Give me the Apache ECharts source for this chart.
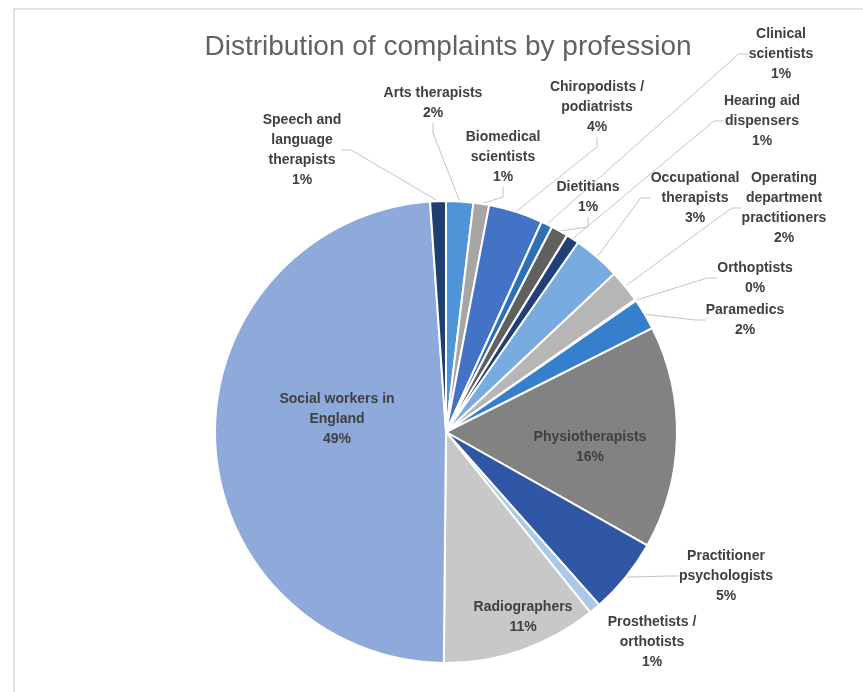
<!DOCTYPE html>
<html>
<head>
<meta charset="utf-8">
<script src="https://cdn.jsdelivr.net/npm/echarts@6/dist/echarts.min.js"></script>
<style>
html,body{margin:0;padding:0;background:#fff;}
#chart{width:863px;height:692px;}
</style>
</head>
<body>
<div id="chart"></div>
<script>
// ---- Data ----
const categories = [
  'Arts therapists','Biomedical scientists','Chiropodists / podiatrists','Clinical scientists',
  'Dietitians','Hearing aid dispensers','Occupational therapists','Operating department practitioners',
  'Orthoptists','Paramedics','Physiotherapists','Practitioner psychologists',
  'Prosthetists / orthotists','Radiographers','Social workers in England','Speech and language therapists'
];
const labelText = [
  'Arts therapists','Biomedical\nscientists','Chiropodists /\npodiatrists','Clinical\nscientists',
  'Dietitians','Hearing aid\ndispensers','Occupational\ntherapists','Operating\ndepartment\npractitioners',
  'Orthoptists','Paramedics','Physiotherapists','Practitioner\npsychologists',
  'Prosthetists /\northotists','Radiographers','Social workers in\nEngland','Speech and\nlanguage\ntherapists'
];
const values = [1.9, 1.1, 3.8, 0.8, 1.2, 0.9, 3.3, 2.3, 0.1, 2.2, 15.6, 5.3, 0.8, 10.9, 48.8, 1.1];

// ---- Styling / layout (not data) ----
const colors = ['#4f94d9','#a6a6a6','#4472c4','#2e6fb5','#606060','#223f78','#78abdf','#b6b6b6',
  '#9dc3e6','#3580cc','#828282','#3057a6','#a9c8ea','#c8c8c8','#8eaadb','#1f3f6e'];
const insideIdx = [10, 13, 14];
const labelPos = [[433,103],[503,157],[597,107],[781,54],[588,197],[762,121],[695,198],[784,208],
  [755,278],[745,320],[590,447],[726,576],[652,642],[523,617],[337,419],[302,150]];

const chart = echarts.init(document.getElementById('chart'), null, {renderer:'canvas'});
const data = categories.map((c, i) => ({
  name: c,
  value: values[i],
  itemStyle: {color: colors[i]},
  label: insideIdx.includes(i) ? {position:'inside'} : {position:'outside'},
  labelLine: {show: !insideIdx.includes(i) && i !== 12}
}));

chart.setOption({
  animation: false,
  graphic: [
    {type:'rect', shape:{x:14, y:9, width:900, height:800},
     style:{fill:'none', stroke:'#d9d9d9', lineWidth:1.5}, silent:true, z:-1},
    {type:'text', x:448, y:47,
     style:{text:'Distribution of complaints by profession', align:'center', verticalAlign:'middle',
            font:'28px "Liberation Sans"', fill:'#626262'}}
  ],
  series: [{
    type: 'pie',
    center: [446, 432],
    radius: 231,
    startAngle: 90,
    clockwise: true,
    avoidLabelOverlap: false,
    itemStyle: {borderColor:'#fff', borderWidth:2},
    label: {
      show: true,
      formatter: p => labelText[p.dataIndex] + '\n' + Math.round(p.percent) + '%',
      fontFamily: 'Liberation Sans',
      fontWeight: 'bold',
      fontSize: 14,
      lineHeight: 20,
      color: '#404040',
      align: 'center'
    },
    labelLine: {show:true, length:10, length2:10, lineStyle:{color:'#c4c4c4', width:1}},
    labelLayout: function (params) {
      const p = labelPos[params.dataIndex];
      return {x: p[0], y: p[1], align: 'center', verticalAlign: 'middle'};
    },
    emphasis: {disabled: true},
    data: data
  }]
});
</script>
</body>
</html>
